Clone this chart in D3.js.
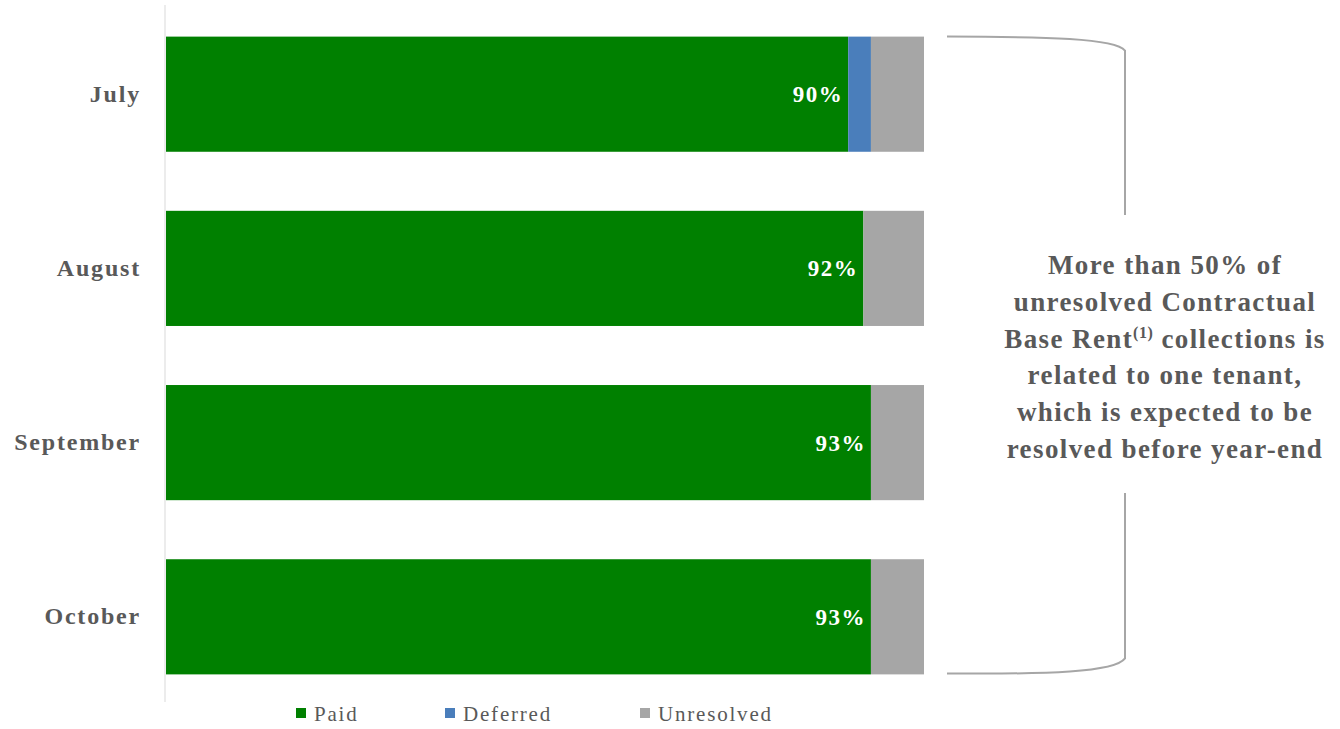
<!DOCTYPE html>
<html><head><meta charset="utf-8">
<script src="https://cdn.jsdelivr.net/npm/d3@7"></script>
<style>body{margin:0;background:#fff;} svg{display:block;}</style>
</head><body>
<svg id="chart" width="1340" height="729"></svg>
<script>
const months = ["July", "August", "September", "October"];
const paid = [0.90, 0.92, 0.93, 0.93];
const deferred = [0.03, 0.00, 0.00, 0.00];
const unresolved = [0.07, 0.08, 0.07, 0.07];
const paidLabels = ["90%", "92%", "93%", "93%"];
const seriesNames = ["Paid", "Deferred", "Unresolved"];
const seriesColors = ["#008000", "#4a7ebb", "#a6a6a6"];
const noteLines = ["More than 50% of", "unresolved Contractual", "Base Rent|(1)| collections is", "related to one tenant,", "which is expected to be", "resolved before year-end"];

const font = "'Liberation Serif', 'DejaVu Serif', serif";
const textColor = "#595959";
const svg = d3.select("#chart");

const rows = months.map((m, i) => ({month: m, Paid: paid[i], Deferred: deferred[i], Unresolved: unresolved[i]}));
const stack = d3.stack().keys(seriesNames)(rows);

const y = d3.scaleBand().domain(months).range([7, 704]).paddingInner(0.339).paddingOuter(0.17);
const x = d3.scaleLinear().domain([0, 1]).range([166, 924]);
const color = d3.scaleOrdinal().domain(seriesNames).range(seriesColors);

// bars
svg.append("g").selectAll("g").data(stack).join("g")
  .attr("fill", d => color(d.key))
  .selectAll("rect").data(d => d).join("rect")
  .attr("x", d => x(d[0]))
  .attr("y", d => y(d.data.month))
  .attr("width", d => Math.max(0, x(d[1]) - x(d[0])))
  .attr("height", y.bandwidth());

// axis
const yAxis = d3.axisLeft(y).tickSize(0).tickPadding(24);
const ag = svg.append("g").attr("transform", `translate(${x(0) - 1},0)`).call(yAxis);
ag.select(".domain").attr("stroke", "#d9d9d9").attr("stroke-width", 1).attr("d", "M0,5V702");
ag.selectAll("text").attr("font-family", font).attr("font-weight", "bold").attr("font-size", 24)
  .attr("letter-spacing", 1.8).attr("fill", textColor);

// bar labels
svg.append("g").selectAll("text").data(rows).join("text")
  .attr("x", (d, i) => x(paid[i]) - 5)
  .attr("y", d => y(d.month) + y.bandwidth() / 2)
  .attr("dy", "0.35em")
  .attr("text-anchor", "end")
  .attr("font-family", font).attr("font-weight", "bold").attr("font-size", 23)
  .attr("letter-spacing", 1.5)
  .attr("fill", "#ffffff")
  .text((d, i) => paidLabels[i]);

// bracket
const bx0 = 947, bx1 = 1125;
const top0 = y(months[0]), bot1 = y(months[3]) + y.bandwidth();
const bracket = svg.append("g").attr("fill", "none").attr("stroke", "#a6a6a6").attr("stroke-width", 2);
bracket.append("path").attr("d", `M${bx0},${top0}C${bx0 + 100},${top0} ${bx1 - 10},${top0 + 2} ${bx1},${top0 + 14}V215`);
bracket.append("path").attr("d", `M${bx1},493V${bot1 - 16}C${bx1 - 10},${bot1 - 2} ${bx0 + 100},${bot1} ${bx0},${bot1 - 1}`);

// note text
const note = svg.append("text").attr("font-family", font).attr("font-weight", "bold").attr("font-size", 27)
  .attr("letter-spacing", 1.4)
  .attr("fill", textColor).attr("text-anchor", "middle");
noteLines.forEach((line, i) => {
  const t = note.append("tspan").attr("x", 1165).attr("y", 274 + i * 36.8);
  const parts = line.split("|");
  parts.forEach((p, j) => {
    const s = t.append("tspan").text(p);
    if (j === 1) { s.attr("font-size", 16).attr("letter-spacing", 0.5).attr("dy", -10); }
    if (j === 2) { s.attr("dy", 10); }
  });
});

// legend
const legX = [296, 445, 640];
const lg = svg.append("g").selectAll("g").data(seriesNames).join("g")
  .attr("transform", (d, i) => `translate(${legX[i]},713)`);
lg.append("rect").attr("x", 0).attr("y", -5).attr("width", 10).attr("height", 10).attr("fill", d => color(d));
lg.append("text").attr("x", 18).attr("y", 1).attr("dy", "0.35em")
  .attr("font-family", font).attr("font-size", 21).attr("letter-spacing", 1.8).attr("fill", textColor).text(d => d);
</script>
</body></html>
